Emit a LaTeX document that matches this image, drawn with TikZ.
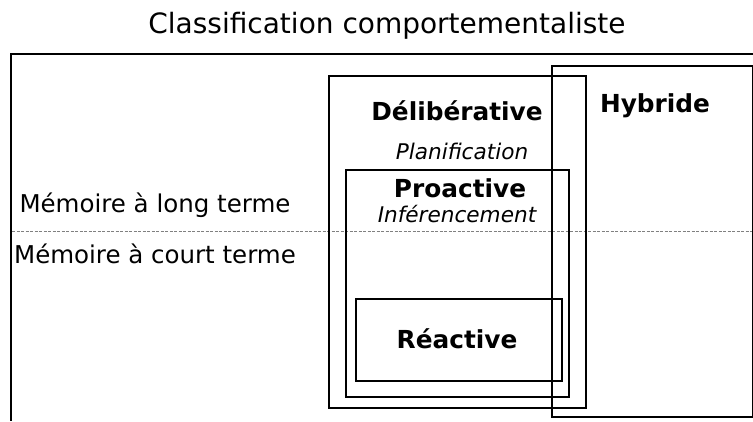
\documentclass[tikz,border=0pt]{standalone}
\usepackage{fontspec}
\setmainfont{DejaVu Sans}
\usetikzlibrary{positioning}

\begin{document}
\begin{tikzpicture}[x=1pt, y=-1pt]

\tikzset{cadre/.style={draw=black, line width=1.4}}
\tikzset{titre/.style={font=\fontsize{28}{32}\selectfont}}
\tikzset{classe/.style={font=\fontsize{24.8}{29}\selectfont\bfseries}}
\tikzset{methode/.style={font=\fontsize{21.6}{26}\selectfont\itshape}}
\tikzset{memoire/.style={font=\fontsize{24.5}{29}\selectfont}}
\tikzset{limite/.style={dashed, dash pattern=on 3pt off 1.5pt, color=gray, line width=0.8}}

\useasboundingbox (0,0) rectangle (753,421);

% cadre exterieur
\draw[line width=2] (753,54) -- (11,54) -- (11,421);
\node[titre] (titre) at (387,26) {Classification comportementaliste};

% separation des memoires
\draw[limite] (12,231) -- (753,231);
\node[memoire] (long) at (155,205) {Mémoire à long terme};
\node[memoire] (court) at (155,254) {Mémoire à court terme};

% boites
\draw[cadre] (329,76) rectangle (586,408);
\draw[cadre] (346,170) rectangle (569,397);
\draw[cadre] (356,299) rectangle (562,381);
\draw[cadre] (552,66) rectangle (753,417);

\node[classe] (delib) at (457,111) {Délibérative};
\node[methode] (plan) at (462,151) {Planification};
\node[classe] (proact) at (460,188) {Proactive};
\node[methode] (infer) at (457,214) {Inférencement};
\node[classe] (react) at (457,339) {Réactive};
\node[classe] (hybr) at (655,106) {Hybride};

\end{tikzpicture}
\end{document}
